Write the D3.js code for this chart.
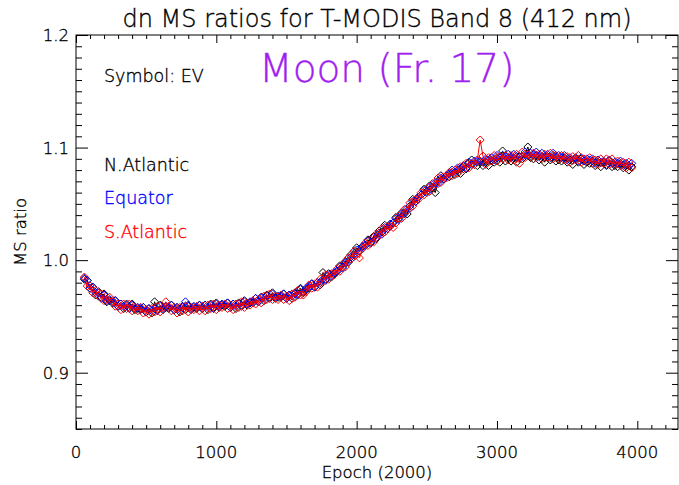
<!DOCTYPE html>
<html><head><meta charset="utf-8">
<script src="https://cdn.jsdelivr.net/npm/d3@7"></script>
<style>
html,body{margin:0;padding:0;background:#fff;}
text{font-family:"DejaVu Sans",sans-serif;font-weight:200;stroke-width:0.35px;}
</style></head>
<body><svg id="c" width="679" height="485"></svg>
<script>
const title = "dn MS ratios for T-MODIS Band 8 (412 nm)";
const xTickValues = [0, 1000, 2000, 3000, 4000];
const xTickLabels = ["0", "1000", "2000", "3000", "4000"];
const yTickValues = [0.9, 1.0, 1.1, 1.2];
const yTickLabels = ["0.9", "1.0", "1.1", "1.2"];
const seriesNames = ["N.Atlantic", "Equator", "S.Atlantic"];
const seriesColors = ["#000000", "#0000ff", "#ff0000"];

const epochs = [
  60, 80, 100, 120, 140, 160, 180, 200, 220, 240,
  260, 280, 300, 320, 340, 360, 380, 400, 420, 440,
  460, 480, 500, 520, 540, 560, 580, 600, 620, 640,
  660, 680, 700, 720, 740, 760, 780, 800, 820, 840,
  860, 880, 900, 920, 940, 960, 980, 1000, 1020, 1040,
  1060, 1080, 1100, 1120, 1140, 1160, 1180, 1200, 1220, 1240,
  1260, 1280, 1300, 1320, 1340, 1360, 1380, 1400, 1420, 1440,
  1460, 1480, 1500, 1520, 1540, 1560, 1580, 1600, 1620, 1640,
  1660, 1680, 1700, 1720, 1740, 1760, 1780, 1800, 1820, 1840,
  1860, 1880, 1900, 1920, 1940, 1960, 1980, 2000, 2020, 2040,
  2060, 2080, 2100, 2120, 2140, 2160, 2180, 2200, 2220, 2240,
  2260, 2280, 2300, 2320, 2340, 2360, 2380, 2400, 2420, 2440,
  2460, 2480, 2500, 2520, 2540, 2560, 2580, 2600, 2620, 2640,
  2660, 2680, 2700, 2720, 2740, 2760, 2780, 2800, 2820, 2840,
  2860, 2880, 2900, 2920, 2940, 2960, 2980, 3000, 3020, 3040,
  3060, 3080, 3100, 3120, 3140, 3160, 3180, 3200, 3220, 3240,
  3260, 3280, 3300, 3320, 3340, 3360, 3380, 3400, 3420, 3440,
  3460, 3480, 3500, 3520, 3540, 3560, 3580, 3600, 3620, 3640,
  3660, 3680, 3700, 3720, 3740, 3760, 3780, 3800, 3820, 3840,
  3860, 3880, 3900, 3920, 3940, 3960
];
const nAtlantic = [
  0.983, 0.982, 0.975, 0.976, 0.969, 0.972, 0.967, 0.970, 0.963, 0.964,
  0.962, 0.964, 0.959, 0.961, 0.957, 0.961, 0.958, 0.961, 0.956, 0.957,
  0.956, 0.958, 0.954, 0.957, 0.953, 0.963, 0.956, 0.960, 0.956, 0.958,
  0.957, 0.960, 0.956, 0.958, 0.954, 0.959, 0.956, 0.960, 0.956, 0.958,
  0.957, 0.960, 0.957, 0.960, 0.956, 0.961, 0.958, 0.962, 0.958, 0.960,
  0.959, 0.962, 0.958, 0.961, 0.957, 0.962, 0.960, 0.964, 0.960, 0.962,
  0.962, 0.966, 0.963, 0.967, 0.964, 0.969, 0.967, 0.971, 0.966, 0.967,
  0.967, 0.970, 0.966, 0.969, 0.966, 0.971, 0.970, 0.975, 0.971, 0.974,
  0.975, 0.979, 0.976, 0.980, 0.978, 0.989, 0.983, 0.988, 0.985, 0.988,
  0.990, 0.995, 0.994, 0.999, 0.998, 1.005, 1.005, 1.011, 1.008, 1.012,
  1.013, 1.018, 1.016, 1.021, 1.019, 1.026, 1.025, 1.031, 1.028, 1.032,
  1.033, 1.038, 1.037, 1.042, 1.041, 1.041, 1.048, 1.054, 1.052, 1.056,
  1.058, 1.063, 1.061, 1.066, 1.064, 1.060, 1.070, 1.075, 1.072, 1.075,
  1.074, 1.078, 1.076, 1.080, 1.077, 1.083, 1.081, 1.086, 1.089, 1.085,
  1.084, 1.087, 1.084, 1.087, 1.084, 1.089, 1.087, 1.091, 1.087, 1.097,
  1.088, 1.091, 1.088, 1.091, 1.087, 1.092, 1.090, 1.094, 1.1005, 1.091,
  1.090, 1.093, 1.089, 1.092, 1.087, 1.092, 1.089, 1.093, 1.088, 1.089,
  1.088, 1.091, 1.087, 1.089, 1.085, 1.090, 1.087, 1.090, 1.085, 1.087,
  1.086, 1.088, 1.084, 1.087, 1.083, 1.087, 1.084, 1.088, 1.083, 1.084,
  1.083, 1.086, 1.082, 1.084, 1.080, 1.083
];
const equator = [
  0.984, 0.982, 0.975, 0.976, 0.971, 0.971, 0.966, 0.969, 0.964, 0.965,
  0.963, 0.964, 0.959, 0.961, 0.959, 0.960, 0.957, 0.960, 0.957, 0.958,
  0.957, 0.958, 0.954, 0.957, 0.955, 0.957, 0.955, 0.959, 0.957, 0.959,
  0.958, 0.960, 0.956, 0.958, 0.956, 0.958, 0.963, 0.959, 0.957, 0.959,
  0.958, 0.960, 0.957, 0.960, 0.958, 0.960, 0.957, 0.961, 0.959, 0.961,
  0.960, 0.962, 0.958, 0.961, 0.959, 0.961, 0.959, 0.963, 0.961, 0.963,
  0.963, 0.966, 0.963, 0.967, 0.966, 0.968, 0.966, 0.970, 0.967, 0.968,
  0.968, 0.970, 0.966, 0.969, 0.968, 0.970, 0.969, 0.974, 0.972, 0.975,
  0.976, 0.979, 0.976, 0.980, 0.980, 0.983, 0.982, 0.987, 0.986, 0.989,
  0.990, 0.994, 0.993, 0.998, 0.999, 1.003, 1.003, 1.009, 1.008, 1.012,
  1.013, 1.017, 1.015, 1.020, 1.020, 1.024, 1.023, 1.029, 1.028, 1.032,
  1.033, 1.037, 1.036, 1.041, 1.042, 1.046, 1.046, 1.052, 1.052, 1.056,
  1.058, 1.062, 1.060, 1.065, 1.065, 1.069, 1.068, 1.073, 1.072, 1.075,
  1.077, 1.080, 1.078, 1.082, 1.081, 1.084, 1.082, 1.087, 1.085, 1.088,
  1.088, 1.088, 1.087, 1.090, 1.089, 1.091, 1.089, 1.093, 1.091, 1.093,
  1.092, 1.094, 1.091, 1.094, 1.092, 1.091, 1.092, 1.096, 1.093, 1.095,
  1.094, 1.096, 1.092, 1.095, 1.092, 1.094, 1.091, 1.095, 1.092, 1.093,
  1.091, 1.093, 1.089, 1.091, 1.089, 1.091, 1.088, 1.091, 1.088, 1.090,
  1.089, 1.090, 1.086, 1.089, 1.087, 1.088, 1.085, 1.089, 1.086, 1.087,
  1.086, 1.088, 1.084, 1.086, 1.084, 1.086
];
const sAtlantic = [
  0.985, 0.977, 0.977, 0.971, 0.973, 0.968, 0.970, 0.964, 0.965, 0.967,
  0.964, 0.959, 0.961, 0.956, 0.961, 0.957, 0.961, 0.955, 0.958, 0.955,
  0.958, 0.953, 0.956, 0.952, 0.957, 0.954, 0.959, 0.954, 0.958, 0.963,
  0.959, 0.955, 0.958, 0.953, 0.958, 0.955, 0.959, 0.954, 0.958, 0.956,
  0.959, 0.955, 0.959, 0.955, 0.960, 0.957, 0.961, 0.956, 0.960, 0.958,
  0.961, 0.957, 0.960, 0.956, 0.961, 0.958, 0.963, 0.958, 0.962, 0.960,
  0.964, 0.961, 0.965, 0.962, 0.968, 0.965, 0.970, 0.965, 0.968, 0.965,
  0.969, 0.965, 0.968, 0.964, 0.970, 0.967, 0.973, 0.969, 0.969, 0.972,
  0.978, 0.975, 0.979, 0.976, 0.983, 0.981, 0.987, 0.983, 0.988, 0.987,
  0.992, 0.990, 0.996, 0.994, 1.002, 1.001, 1.008, 1.005, 1.002, 1.010,
  1.015, 1.013, 1.018, 1.016, 1.023, 1.022, 1.028, 1.025, 1.030, 1.030,
  1.029, 1.033, 1.039, 1.037, 1.045, 1.044, 1.051, 1.048, 1.054, 1.054,
  1.060, 1.058, 1.063, 1.061, 1.068, 1.067, 1.073, 1.069, 1.074, 1.073,
  1.078, 1.075, 1.080, 1.077, 1.083, 1.081, 1.086, 1.082, 1.086, 1.085,
  1.089, 1.1067, 1.0925, 1.085, 1.091, 1.088, 1.093, 1.088, 1.092, 1.090,
  1.093, 1.089, 1.093, 1.089, 1.094, 1.086, 1.096, 1.091, 1.094, 1.092,
  1.095, 1.091, 1.094, 1.090, 1.094, 1.091, 1.095, 1.090, 1.093, 1.090,
  1.093, 1.089, 1.092, 1.087, 1.092, 1.089, 1.093, 1.087, 1.090, 1.088,
  1.091, 1.086, 1.089, 1.085, 1.090, 1.086, 1.090, 1.085, 1.090, 1.085,
  1.088, 1.084, 1.087, 1.082, 1.087, 1.082
];
const seriesValues = [nAtlantic, equator, sAtlantic];

const svg = d3.select("#c");
const L = 76, R = 678, T = 35, B = 429;
const x = d3.scaleLinear().domain([0, 4290]).range([L, R]);
const y = d3.scaleLinear().domain([0.85, 1.2]).range([B, T]);
const ink = "#000";

svg.append("rect").attr("x", L).attr("y", T).attr("width", R - L).attr("height", B - T)
  .attr("fill", "none").attr("stroke", ink).attr("stroke-width", 1);

const xMinor = d3.range(0, 4300, 100).filter(v => v % 1000 !== 0);
const yMinor = d3.range(0, 36).map(i => 0.85 + i * 0.01).filter(v => Math.abs(v * 10 - Math.round(v * 10)) > 1e-6);

function styleAxis(g) {
  g.select(".domain").remove();
  g.selectAll("line").attr("stroke", ink).attr("stroke-width", 1);
  g.selectAll("text").remove();
}
svg.append("g").attr("transform", `translate(0,${B})`).call(d3.axisBottom(x).tickValues(xTickValues).tickSize(-8)).call(styleAxis);
svg.append("g").attr("transform", `translate(0,${B})`).call(d3.axisBottom(x).tickValues(xMinor).tickSize(-4)).call(styleAxis);
svg.append("g").attr("transform", `translate(0,${T})`).call(d3.axisTop(x).tickValues(xTickValues).tickSize(-8)).call(styleAxis);
svg.append("g").attr("transform", `translate(0,${T})`).call(d3.axisTop(x).tickValues(xMinor).tickSize(-4)).call(styleAxis);
svg.append("g").attr("transform", `translate(${L},0)`).call(d3.axisLeft(y).tickValues(yTickValues).tickSize(-12)).call(styleAxis);
svg.append("g").attr("transform", `translate(${L},0)`).call(d3.axisLeft(y).tickValues(yMinor).tickSize(-6)).call(styleAxis);
svg.append("g").attr("transform", `translate(${R},0)`).call(d3.axisRight(y).tickValues(yTickValues).tickSize(-12)).call(styleAxis);
svg.append("g").attr("transform", `translate(${R},0)`).call(d3.axisRight(y).tickValues(yMinor).tickSize(-6)).call(styleAxis);

function txt(sel, color) { return sel.attr("fill", color).attr("stroke", color); }

txt(svg.append("g").selectAll("text").data(xTickValues).join("text")
  .attr("x", d => x(d)).attr("y", 458).attr("text-anchor", "middle")
  .attr("font-size", 16.5).text((d, i) => xTickLabels[i]), ink);
txt(svg.append("g").selectAll("text").data(yTickValues).join("text")
  .attr("x", 69).attr("y", d => y(d) + 6).attr("text-anchor", "end")
  .attr("font-size", 16.5).text((d, i) => yTickLabels[i]), ink);

txt(svg.append("text").attr("x", (L + R) / 2).attr("y", 478).attr("text-anchor", "middle")
  .attr("font-size", 16.5).text("Epoch (2000)"), ink);
txt(svg.append("text").attr("transform", "translate(26,232) rotate(-90)").attr("text-anchor", "middle")
  .attr("font-size", 16.5).text("MS ratio"), ink);
txt(svg.append("text").attr("x", 377).attr("y", 27).attr("text-anchor", "middle")
  .attr("font-size", 24).text(title), ink);

txt(svg.append("text").attr("x", 259).attr("y", 82).attr("font-size", 39).text("Moon (Fr. 17)"), "#a020f0");
txt(svg.append("text").attr("x", 104).attr("y", 82).attr("font-size", 17.5).text("Symbol:  EV"), ink);
const legendY = [171, 204, 238];
svg.append("g").selectAll("text").data(seriesNames).join("text")
  .attr("x", 104).attr("y", (d, i) => legendY[i]).attr("font-size", 17.5)
  .attr("fill", (d, i) => seriesColors[i]).attr("stroke", (d, i) => seriesColors[i]).text(d => d);

const diamond = "M0,-4L4,0L0,4L-4,0Z";
svg.append("clipPath").attr("id", "clipPlot").append("rect").attr("x", L).attr("y", T).attr("width", R - L).attr("height", B - T);
const plot = svg.append("g").attr("clip-path", "url(#clipPlot)");
const line = d3.line().x(d => x(d[0])).y(d => y(d[1]));
seriesValues.forEach((vals, si) => {
  const pts = epochs.map((e, i) => [e, vals[i]]);
  const g = plot.append("g");
  g.append("path").datum(pts).attr("d", line).attr("fill", "none")
    .attr("stroke", seriesColors[si]).attr("stroke-width", 1);
  g.selectAll("path.pt").data(pts).join("path").attr("class", "pt")
    .attr("transform", d => `translate(${x(d[0])},${y(d[1])})`)
    .attr("d", diamond).attr("fill", "none").attr("stroke", seriesColors[si]).attr("stroke-width", 1);
});
</script></body></html>
